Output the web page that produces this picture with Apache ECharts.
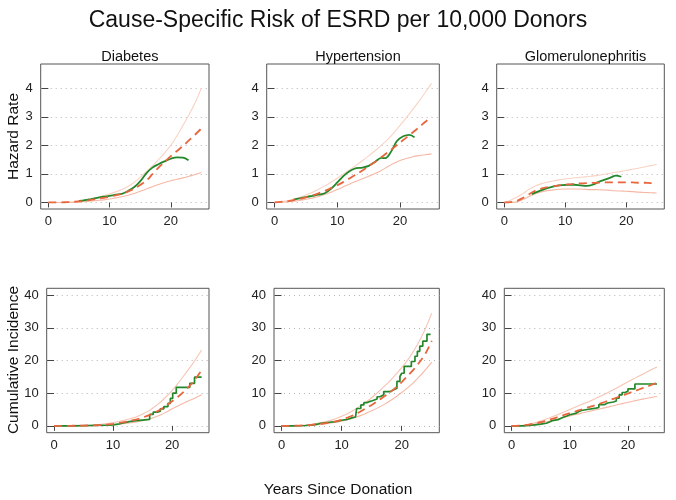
<!DOCTYPE html>
<html><head><meta charset="utf-8">
<script src="https://cdn.jsdelivr.net/npm/echarts@6/dist/echarts.min.js"></script>
<style>html,body{margin:0;padding:0;background:#fff}#c{width:676px;height:500px}</style>
</head><body><div id="c"></div>
<script>
// ---------- DATA ----------
const panelTitles = ['Diabetes', 'Hypertension', 'Glomerulonephritis'];
const hazardTicks = [0, 1, 2, 3, 4];
const incidenceTicks = [0, 10, 20, 30, 40];
const yearTicks = [0, 10, 20];
// yearly grid used by the fitted curves and their confidence bounds
const years = [0,1,2,3,4,5,6,7,8,9,10,11,12,13,14,15,16,17,18,19,20,21,22,23,24,25];

// Diabetes hazard: observed (smoothed) as [year, value] pairs; fit and bounds by year
const dmHazObs = [[5,0.05],[6,0.08],[7,0.12],[8,0.16],[9,0.2],[10,0.23],[11,0.27],[12,0.3],[13,0.4],[14,0.53],[15,0.74],[16,1.02],[17,1.22],[18,1.34],[19,1.44],[20,1.53],[21,1.58],[22,1.57],[22.9,1.48]];
const dmHazFit = [0,0,0,0.01,0.02,0.04,0.06,0.09,0.12,0.16,0.2,0.25,0.3,0.38,0.48,0.61,0.76,0.99,1.22,1.42,1.62,1.8,1.98,2.18,2.38,2.59];
const dmHazUp = [0,0,0,0.01,0.02,0.05,0.08,0.12,0.17,0.23,0.3,0.37,0.45,0.56,0.7,0.88,1.08,1.28,1.5,1.74,2.0,2.33,2.7,3.08,3.5,4.0];
const dmHazLo = [0,0,0,0,0,0.01,0.03,0.05,0.07,0.09,0.12,0.16,0.2,0.25,0.31,0.39,0.47,0.55,0.63,0.7,0.76,0.81,0.86,0.92,0.98,1.05];

// Hypertension hazard
const htHazObs = [[3,0.1],[4,0.14],[5,0.19],[6,0.23],[7,0.27],[8,0.32],[9,0.48],[10,0.7],[11,0.93],[12,1.1],[13,1.2],[14,1.22],[15,1.28],[16,1.42],[17,1.56],[17.6,1.55],[18.4,1.72],[19.5,2.15],[20.5,2.32],[21.5,2.37],[22.3,2.28]];
const htHazFit = [0,0.02,0.04,0.08,0.12,0.18,0.24,0.32,0.4,0.5,0.6,0.72,0.85,0.98,1.12,1.27,1.42,1.58,1.75,1.92,2.1,2.27,2.45,2.63,2.82,3.0];
const htHazUp = [0,0.03,0.06,0.11,0.18,0.26,0.35,0.46,0.58,0.71,0.85,1.0,1.15,1.3,1.46,1.63,1.81,2.0,2.2,2.44,2.7,2.97,3.25,3.54,3.85,4.17];
const htHazLo = [0,0.01,0.02,0.04,0.07,0.11,0.15,0.21,0.28,0.36,0.45,0.55,0.65,0.74,0.83,0.92,1.01,1.12,1.25,1.37,1.47,1.54,1.6,1.64,1.67,1.7];

// Glomerulonephritis hazard
const gnHazObs = [[4.5,0.29],[5.5,0.38],[6.5,0.46],[7.5,0.53],[8.5,0.58],[9.5,0.61],[10.5,0.62],[11.5,0.62],[12.5,0.6],[13.5,0.58],[14.5,0.62],[15.5,0.72],[16.5,0.8],[17.5,0.88],[18.3,0.94],[19.2,0.9]];
const gnHazFit = [0,0.01,0.05,0.15,0.28,0.4,0.48,0.53,0.57,0.6,0.62,0.64,0.66,0.67,0.68,0.69,0.7,0.7,0.7,0.7,0.7,0.7,0.69,0.69,0.68,0.68];
const gnHazUp = [0,0.08,0.18,0.3,0.45,0.57,0.65,0.71,0.75,0.79,0.82,0.85,0.87,0.89,0.91,0.94,0.97,1.01,1.05,1.08,1.12,1.16,1.2,1.24,1.29,1.33];
const gnHazLo = [0,0,0.02,0.1,0.2,0.3,0.37,0.41,0.44,0.46,0.47,0.47,0.47,0.46,0.45,0.45,0.44,0.43,0.41,0.4,0.39,0.38,0.36,0.35,0.34,0.33];

// Diabetes cumulative incidence: observed step points as [year, value]
const dmCumObs = [[0,0],[3,0.1],[6,0.2],[9,0.3],[10,0.5],[10.8,0.8],[11.5,1.2],[12.5,1.5],[13.5,1.7],[14.5,2.0],[16.2,3.5],[16.8,4.2],[17.5,4.5],[18,5.2],[18.6,5.9],[19.3,6.9],[19.7,8.4],[20.1,10],[20.7,11.8],[23,13],[23.8,14.9],[25,14.9]];
const dmCumFit = [0,0,0,0.02,0.05,0.08,0.12,0.18,0.25,0.4,0.6,0.88,1.2,1.58,2.0,2.55,3.2,4.0,5.0,6.2,7.5,8.9,10.5,12.3,14.5,17];
const dmCumUp = [0,0,0,0.02,0.05,0.1,0.2,0.33,0.5,0.72,1.0,1.35,1.8,2.25,2.8,3.6,4.5,5.8,7.2,8.9,10.8,13.0,15.4,17.8,20.4,23.2];
const dmCumLo = [0,0,0,0,0,0,0,0.05,0.1,0.18,0.3,0.48,0.7,0.94,1.2,1.55,2.0,2.6,3.3,4.2,5.2,6.1,7.0,7.8,8.6,9.5];

// Hypertension cumulative incidence
const htCumObs = [[0,0],[2,0.1],[4,0.2],[5,0.5],[6,0.8],[6.5,1.1],[8,1.3],[9,1.7],[10,2.0],[11,2.5],[11.8,2.7],[12.3,2.8],[12.5,5.3],[13.2,6.4],[13.7,7.1],[14.2,7.4],[14.6,7.7],[15.1,8.2],[15.9,8.9],[16.4,9.5],[17,10.5],[18.1,11],[18.6,11.5],[19.2,13.6],[19.7,15.1],[20,16.1],[20.4,18.2],[21.6,19.7],[22.2,21.3],[22.6,22.8],[23,24.4],[23.5,25.9],[24.2,28],[24.8,28]];
const htCumFit = [0,0,0.02,0.07,0.15,0.3,0.5,0.72,1.0,1.4,1.9,2.55,3.3,4.25,5.3,6.4,7.6,8.9,10.2,11.7,13.4,15.3,17.3,19.6,22.3,26];
const htCumUp = [0,0.01,0.05,0.12,0.25,0.48,0.8,1.15,1.6,2.2,2.9,3.8,4.8,5.95,7.2,8.6,10.2,11.9,13.7,15.7,17.8,20.2,23,26.2,30,34.5];
const htCumLo = [0,0,0.01,0.04,0.1,0.2,0.35,0.55,0.8,1.08,1.4,1.85,2.4,3.05,3.8,4.6,5.5,6.5,7.6,8.85,10.2,11.7,13.3,15.2,17.3,19.5];

// Glomerulonephritis cumulative incidence
const gnCumObs = [[0,0],[2,0.1],[3,0.3],[4,0.5],[5,0.8],[6,1.2],[6.5,1.6],[7,1.9],[8,2.3],[8.5,2.7],[9,3.0],[9.5,3.4],[10,3.8],[11,4.3],[11.5,4.7],[12,5.0],[13,5.4],[14.5,5.6],[15,6.5],[16,7.0],[16.5,7.3],[17.5,7.6],[18,8.5],[18.5,9.5],[19,10.2],[19.5,10.6],[20,11.3],[21.2,12.8],[25,12.8]];
const gnCumFit = [0,0.03,0.15,0.38,0.7,1.1,1.6,2.1,2.7,3.3,3.9,4.45,5.0,5.55,6.1,6.7,7.3,7.95,8.6,9.25,9.9,10.55,11.2,11.85,12.5,13.2];
const gnCumUp = [0,0.05,0.2,0.5,0.9,1.45,2.1,2.8,3.5,4.25,5.0,5.75,6.5,7.25,8.0,8.85,9.7,10.6,11.5,12.5,13.5,14.4,15.3,16.25,17.2,18];
const gnCumLo = [0,0.02,0.1,0.25,0.5,0.8,1.2,1.65,2.1,2.55,3.0,3.45,3.9,4.3,4.7,5.1,5.5,5.95,6.4,6.8,7.2,7.6,8.0,8.35,8.7,9.0];

// ---------- LAYOUT ----------
const FONT = 'Liberation Sans, Arial, Helvetica, sans-serif';
const panels = [
  {obs: dmHazObs, fit: dmHazFit, up: dmHazUp, lo: dmHazLo, step: false, box: [40.7, 64, 168.3, 145], haz: true},
  {obs: htHazObs, fit: htHazFit, up: htHazUp, lo: htHazLo, step: false, box: [266.7, 64, 172.6, 145], haz: true},
  {obs: gnHazObs, fit: gnHazFit, up: gnHazUp, lo: gnHazLo, step: false, box: [496.7, 64, 167.6, 145], haz: true},
  {obs: dmCumObs, fit: dmCumFit, up: dmCumUp, lo: dmCumLo, step: true, box: [46.7, 288.3, 162.3, 144.4], haz: false},
  {obs: htCumObs, fit: htCumFit, up: htCumUp, lo: htCumLo, step: true, box: [274, 288.3, 165.3, 144.4], haz: false},
  {obs: gnCumObs, fit: gnCumFit, up: gnCumUp, lo: gnCumLo, step: true, box: [504.3, 288.3, 160, 144.4], haz: false}
];
const byYear = arr => arr.map((v, k) => [years[k], v]);

const grids = [], xAxes = [], yAxes = [], series = [];
const titles = [{
  text: 'Cause-Specific Risk of ESRD per 10,000 Donors', left: 'center', top: 4,
  textStyle: {fontFamily: FONT, fontSize: 23, fontWeight: 'normal', color: '#111'}
}];

panels.forEach((p, i) => {
  const [l, t, w, h] = p.box;
  grids.push({left: l, top: t, width: w, height: h, show: true, borderColor: '#555', borderWidth: 1, backgroundColor: 'transparent'});
  xAxes.push({
    type: 'value', gridIndex: i, min: -1.25, max: 26.25,
    axisLine: {show: false},
    axisTick: {show: true, length: 5, lineStyle: {color: '#444'}, customValues: yearTicks},
    axisLabel: {customValues: yearTicks, fontFamily: FONT, fontSize: 13, color: '#222', margin: 6},
    splitLine: {show: false}
  });
  const ticks = p.haz ? hazardTicks : incidenceTicks;
  yAxes.push({
    type: 'value', gridIndex: i,
    min: p.haz ? -0.23 : -2.1, max: p.haz ? 4.85 : 42.1,
    axisLine: {show: false},
    axisTick: {show: true, length: 7, lineStyle: {color: '#444'}, customValues: ticks},
    axisLabel: {customValues: ticks, fontFamily: FONT, fontSize: 13, color: '#222', margin: 8},
    splitLine: {show: true, lineStyle: {color: '#b5b5b5', type: [1, 4], width: 1}}
  });
  if (i < 3) {
    titles.push({
      text: panelTitles[i], left: l + w / 2, top: 44, textAlign: 'center',
      textStyle: {fontFamily: FONT, fontSize: 14.5, fontWeight: 'normal', color: '#111'}
    });
  }
  const base = {type: 'line', xAxisIndex: i, yAxisIndex: i, showSymbol: false, symbol: 'none', silent: true, animation: false};
  series.push(Object.assign({}, base, {data: byYear(p.up), smooth: 0.3, lineStyle: {color: p.haz ? '#f9d3c5' : '#f8c4b4', width: 1.1}}));
  series.push(Object.assign({}, base, {data: byYear(p.lo), smooth: 0.3, lineStyle: {color: '#f6b8a6', width: 1.1}}));
  if (p.step) {
    series.push(Object.assign({}, base, {data: p.obs, step: 'end', lineStyle: {color: '#23882a', width: 1.7}}));
  } else {
    series.push(Object.assign({}, base, {data: p.obs, smooth: 0.35, lineStyle: {color: '#23882a', width: 1.8}}));
  }
  series.push(Object.assign({}, base, {data: byYear(p.fit), smooth: 0.3, lineStyle: {color: '#e8663e', width: 1.8, type: [8, 5]}}));
});

const chart = echarts.init(document.getElementById('c'), null, {renderer: 'canvas'});
chart.setOption({
  animation: false,
  backgroundColor: '#fff',
  title: titles,
  grid: grids, xAxis: xAxes, yAxis: yAxes, series: series,
  graphic: [
    {type: 'text', x: 14, y: 136.5, rotation: Math.PI / 2, style: {text: 'Hazard Rate', fontFamily: FONT, fontSize: 15.5, fill: '#111', align: 'center', verticalAlign: 'middle'}},
    {type: 'text', x: 14, y: 360, rotation: Math.PI / 2, style: {text: 'Cumulative Incidence', fontFamily: FONT, fontSize: 15.5, fill: '#111', align: 'center', verticalAlign: 'middle'}},
    {type: 'text', x: 338, y: 490, style: {text: 'Years Since Donation', fontFamily: FONT, fontSize: 15.5, fill: '#111', align: 'center', verticalAlign: 'middle'}}
  ]
});
</script></body></html>
